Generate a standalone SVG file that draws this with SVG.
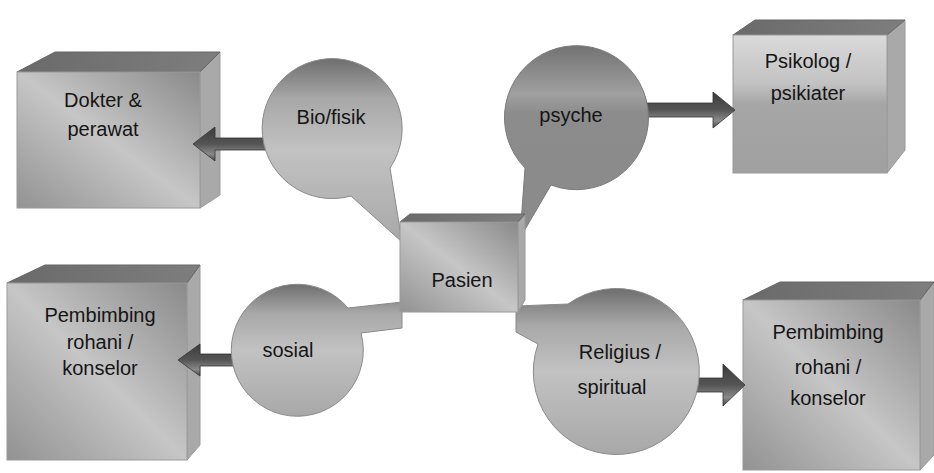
<svg xmlns="http://www.w3.org/2000/svg" width="934" height="473" viewBox="0 0 934 473">
<defs>
<linearGradient id="gFront" x1="1" y1="0" x2="0" y2="1">
<stop offset="0" stop-color="#8a8a8a"/>
<stop offset="0.5" stop-color="#c6c6c6"/>
<stop offset="1" stop-color="#929292"/>
</linearGradient>
<linearGradient id="gFrontP" x1="0" y1="0" x2="0" y2="1">
<stop offset="0" stop-color="#dadada"/>
<stop offset="0.35" stop-color="#c2c2c2"/>
<stop offset="0.5" stop-color="#a6a6a6"/>
<stop offset="1" stop-color="#a0a0a0"/>
</linearGradient>
<linearGradient id="gTop" x1="0" y1="0" x2="1" y2="0">
<stop offset="0" stop-color="#6a6a6a"/>
<stop offset="1" stop-color="#7e7e7e"/>
</linearGradient>
<linearGradient id="gBub" x1="0" y1="0" x2="0" y2="1">
<stop offset="0" stop-color="#6e6e6e"/>
<stop offset="0.22" stop-color="#a8a8a8"/>
<stop offset="0.5" stop-color="#c2c2c2"/>
<stop offset="1" stop-color="#a8a8a8"/>
</linearGradient>
<linearGradient id="gBubP" x1="0" y1="0" x2="0" y2="1">
<stop offset="0" stop-color="#727272"/>
<stop offset="0.25" stop-color="#a0a0a0"/>
<stop offset="0.35" stop-color="#8c8c8c"/>
<stop offset="1" stop-color="#8a8a8a"/>
</linearGradient>
<linearGradient id="gArrow" x1="0" y1="0" x2="0" y2="1">
<stop offset="0" stop-color="#3c3c3c"/>
<stop offset="0.5" stop-color="#555555"/>
<stop offset="0.8" stop-color="#8a8a8a"/>
<stop offset="1" stop-color="#444444"/>
</linearGradient>
</defs>
<style>
.front{fill:url(#gFront);stroke:#9a9a9a;stroke-width:1}
.frontP{fill:url(#gFrontP);stroke:#9a9a9a;stroke-width:1}
.top{fill:url(#gTop);stroke:#666;stroke-width:1}
.side{fill:#a9a9a9;stroke:#999;stroke-width:1}
.bub{fill:url(#gBub);stroke:#8a8a8a;stroke-width:1}
.bubP{fill:url(#gBubP);stroke:#7a7a7a;stroke-width:1}
.arrow{fill:url(#gArrow);stroke:#333;stroke-width:0.8}
text{font-family:"Liberation Sans",Arial,sans-serif;font-size:20px;fill:#151515;text-anchor:middle}
</style>
<rect width="934" height="473" fill="#ffffff"/>

<g id="dokter">
<polygon class="side" points="200,72 220,52 220,195 200,208"/>
<polygon class="top" points="17,72 55,52 220,52 200,72"/>
<rect class="front" x="17" y="72" width="183" height="136"/>
<text x="103" y="107">Dokter &amp;</text>
<text x="103" y="136">perawat</text>
</g>

<g id="psikolog">
<polygon class="side" points="887,35 905,20 905,150 887,173"/>
<polygon class="top" points="733,35 755,20 905,20 887,35"/>
<rect class="frontP" x="733" y="35" width="154" height="138"/>
<text x="808" y="68">Psikolog /</text>
<text x="808" y="100">psikiater</text>
</g>

<g id="rohani-kiri">
<polygon class="side" points="187,283 200,265 200,445 187,460"/>
<polygon class="top" points="7,283 45,265 200,265 187,283"/>
<rect class="front" x="7" y="283" width="180" height="177"/>
<text x="100" y="322">Pembimbing</text>
<text x="100" y="349">rohani /</text>
<text x="100" y="375">konselor</text>
</g>

<g id="rohani-kanan">
<polygon class="side" points="920,300 934,282 934,455 920,470"/>
<polygon class="top" points="743,300 780,282 934,282 920,300"/>
<rect class="front" x="743" y="300" width="177" height="170"/>
<text x="828" y="339">Pembimbing</text>
<text x="828" y="374">rohani /</text>
<text x="828" y="405">konselor</text>
</g>

<g id="connectors">
<polygon class="arrow" points="193,144 215,127 215,138 270,138 270,150 215,150 215,161"/>
<polygon class="arrow" points="735,110 713,92 713,103 645,103 645,117 713,117 713,128"/>
<polygon class="arrow" points="178,360 200,344 200,354 236,354 236,366 200,366 200,376"/>
<polygon class="arrow" points="745,385 723,364 723,378 695,378 695,392 723,392 723,406"/>
</g>

<g id="biofisik">
<path class="bub" d="M 351,196 A 70 70 0 1 1 390,168 L 402,242 Z"/>
<text x="331" y="124">Bio/fisik</text>
</g>

<g id="psyche">
<path class="bubP" d="M 525,168 A 72 72 0 1 1 551,185 L 520,238 Z"/>
<text x="571" y="122">psyche</text>
</g>

<g id="sosial">
<path class="bub" d="M 361,333 A 66 66 0 1 1 348,308 L 402,302 L 402,328 Z"/>
<text x="288" y="357">sosial</text>
</g>

<g id="religius">
<path class="bub" d="M 538,344 A 83 83 0 1 0 568,304 L 516,306 L 516,332 Z"/>
<text x="620" y="359">Religius /</text>
<text x="612" y="394">spiritual</text>
</g>

<g id="pasien">
<polygon class="side" points="518,222 525,214 525,300 518,312"/>
<polygon class="top" points="400,222 410,214 525,214 518,222"/>
<rect class="front" x="400" y="222" width="118" height="90"/>
<text x="462" y="287">Pasien</text>
</g>
</svg>
